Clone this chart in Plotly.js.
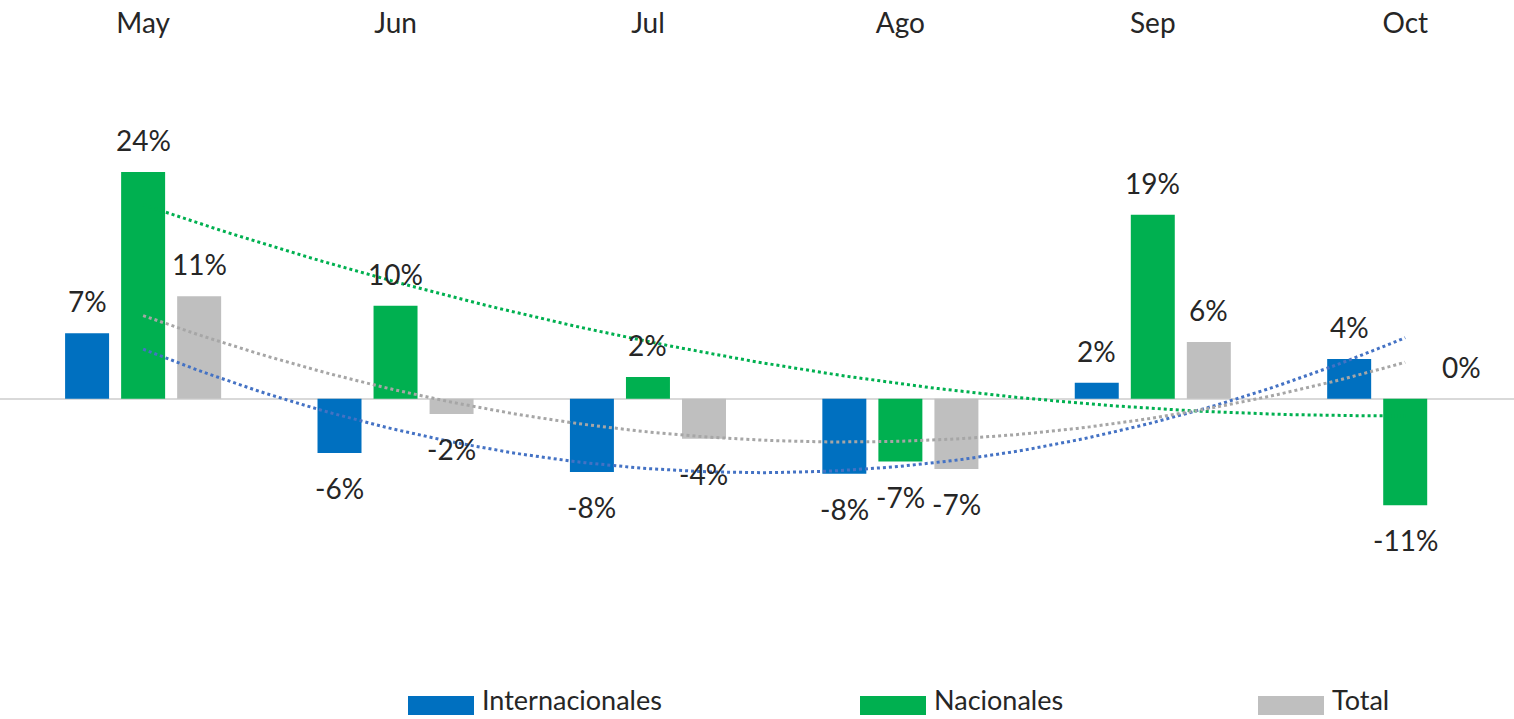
<!DOCTYPE html>
<html>
<head>
<meta charset="utf-8">
<script src="https://cdn.plot.ly/plotly-3.0.1.min.js"></script>
<style>html,body{margin:0;padding:0;background:#fff;}#chart{width:1514px;height:719px;}</style>
</head>
<body>
<div id="chart"></div>
<script>
const months = ["May", "Jun", "Jul", "Ago", "Sep", "Oct"];
const seriesNames = ["Internacionales", "Nacionales", "Total"];
const internacionales = [0.069, -0.057, -0.077, -0.079, 0.017, 0.042];
const nacionales = [0.239, 0.098, 0.023, -0.066, 0.194, -0.112];
const total = [0.108, -0.016, -0.042, -0.074, 0.060, 0.000];

const barColors = ["#0070C0", "#00B050", "#BFBFBF"];
const trendColors = ["#4472C4", "#00B050", "#A6A6A6"];
const FONT = "Lato, 'Open Sans', sans-serif";
const TEXT_COLOR = "#262626";

const W = 1514, H = 719;
const M = { l: 0, r: 0, t: 40, b: 60 };
const BARGAP = 0.334, GROUPGAP = 0.215;

const xs = months.map((_, i) => i);
const allSeries = [internacionales, nacionales, total];

// Least-squares quadratic fit (order-2 polynomial trendline)
function quadFit(x, y) {
  const n = x.length;
  const s = [0, 0, 0, 0, 0], t = [0, 0, 0];
  for (let i = 0; i < n; i++) {
    for (let k = 0; k <= 4; k++) s[k] += Math.pow(x[i], k);
    for (let k = 0; k <= 2; k++) t[k] += y[i] * Math.pow(x[i], k);
  }
  const A = [[s[0], s[1], s[2], t[0]], [s[1], s[2], s[3], t[1]], [s[2], s[3], s[4], t[2]]];
  for (let c = 0; c < 3; c++) {
    let p = c;
    for (let r = c + 1; r < 3; r++) if (Math.abs(A[r][c]) > Math.abs(A[p][c])) p = r;
    [A[c], A[p]] = [A[p], A[c]];
    for (let r = 0; r < 3; r++) {
      if (r === c) continue;
      const f = A[r][c] / A[c][c];
      for (let k = c; k < 4; k++) A[r][k] -= f * A[c][k];
    }
  }
  return [A[0][3] / A[0][0], A[1][3] / A[1][1], A[2][3] / A[2][2]];
}

const traces = [];
const annotations = [];
const nS = allSeries.length;
const slot = (1 - BARGAP) / nS;

allSeries.forEach((vals, s) => {
  traces.push({
    type: "bar",
    name: seriesNames[s],
    x: xs,
    y: vals,
    marker: { color: barColors[s] },
    hoverinfo: "name+y",
    showlegend: false
  });
  // data labels (Excel-like offset from bar end)
  vals.forEach((v, i) => {
    const pos = v >= 0;
    annotations.push({
      xref: "x", yref: "y",
      x: i + (s - (nS - 1) / 2) * slot, y: v,
      text: Math.round(v * 100) + "%",
      showarrow: false,
      xanchor: "center",
      yanchor: pos ? "bottom" : "top",
      yshift: pos ? 13 : -16,
      font: { family: FONT, size: 28, color: TEXT_COLOR }
    });
  });
});

allSeries.forEach((vals, s) => {
  const [a, b, c] = quadFit(xs, vals);
  const tx = [], ty = [];
  for (let k = 0; k <= 100; k++) {
    const xv = (xs.length - 1) * k / 100;
    tx.push(xv);
    ty.push(a + b * xv + c * xv * xv);
  }
  traces.push({
    type: "scatter",
    mode: "lines",
    name: "Polinómica (" + seriesNames[s] + ")",
    x: tx,
    y: ty,
    line: { color: trendColors[s], width: 3, dash: "dot" },
    hoverinfo: "skip",
    showlegend: false
  });
});

// Custom legend with wide Excel-like swatches
const plotH = H - M.t - M.b;
const py = p => (H - M.b - p) / plotH;
const legendX = [408, 860, 1258];
const shapes = [];
seriesNames.forEach((nm, s) => {
  shapes.push({
    type: "rect", xref: "paper", yref: "paper",
    x0: legendX[s] / W, x1: (legendX[s] + 66) / W,
    y0: py(715), y1: py(696),
    fillcolor: barColors[s], line: { width: 0 }
  });
  annotations.push({
    xref: "paper", yref: "paper",
    x: (legendX[s] + 72) / W, y: py(718),
    xanchor: "left", yanchor: "bottom", showarrow: false, text: nm,
    font: { family: FONT, size: 27, color: TEXT_COLOR }
  });
});

const layout = {
  width: W, height: H,
  margin: M,
  paper_bgcolor: "#ffffff", plot_bgcolor: "#ffffff",
  barmode: "group", bargap: BARGAP, bargroupgap: GROUPGAP,
  showlegend: false,
  xaxis: {
    side: "top", range: [-0.567, 5.431],
    tickmode: "array", tickvals: xs, ticktext: months,
    showgrid: false, zeroline: false, showline: false, ticks: "",
    tickfont: { family: FONT, size: 28, color: TEXT_COLOR }
  },
  yaxis: {
    range: [-0.274, 0.378], showgrid: false, showticklabels: false, ticks: "",
    zeroline: true, zerolinecolor: "#D9D9D9", zerolinewidth: 2, showline: false
  },
  shapes: shapes,
  annotations: annotations
};

Plotly.newPlot("chart", traces, layout, { displayModeBar: false, staticPlot: true });
</script>
</body>
</html>
